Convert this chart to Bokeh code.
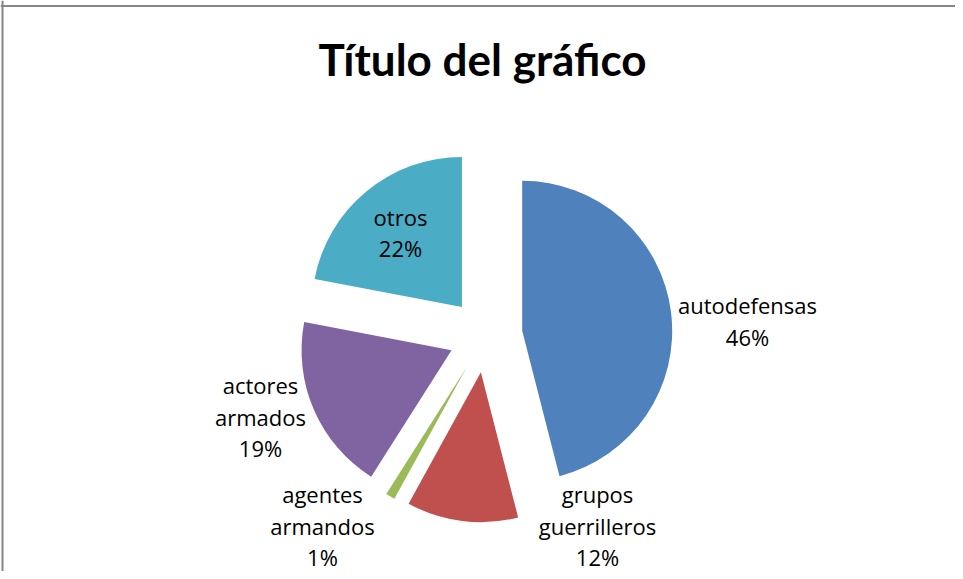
import math
from bokeh.plotting import figure
from bokeh.models import ColumnDataSource, Span
from bokeh.core.properties import value
from bokeh.embed import file_html
from bokeh.resources import INLINE

# ---- data ----
title_text = "Título del gráfico"
categories = ["autodefensas", "grupos guerrilleros", "agentes armandos", "actores armados", "otros"]
percentages = [46, 12, 1, 19, 22]
colors = ["#4F81BD", "#C0504D", "#9BBB59", "#8064A2", "#4BACC6"]

# ---- layout (reference pixels, y down) ----
W, H = 955, 571
def px(x): return x
def py(y): return H - y

CENTER = (485, 335)
RADIUS = 150
EXPLODE = 37
LINE_STEP = 31.5
# label block centres, placed where the reference puts them
LABEL_CENTERS = [(747, 320.5), (597, 525), (322, 525), (260, 416), (400, 232)]
FONT = "Open Sans"

p = figure(width=W, height=H, x_range=(0, W), y_range=(0, H),
           output_backend="svg", toolbar_location=None, min_border=0)
p.axis.visible = False
p.grid.visible = False
p.outline_line_color = None
p.background_fill_color = "#FFFFFF"
p.border_fill_color = "#FFFFFF"

total = sum(percentages)
cx, cy = px(CENTER[0]), py(CENTER[1])
xs, ys, starts, ends = [], [], [], []
cum = 0.0
for v in percentages:
    a0 = cum / total * 2 * math.pi          # clockwise from top
    cum += v
    a1 = cum / total * 2 * math.pi
    mid = (a0 + a1) / 2
    xs.append(cx + EXPLODE * math.sin(mid))
    ys.append(cy + EXPLODE * math.cos(mid))
    starts.append(math.pi / 2 - a1)
    ends.append(math.pi / 2 - a0)

src = ColumnDataSource(dict(x=xs, y=ys, start=starts, end=ends, color=colors, name=categories))
p.wedge(x="x", y="y", radius=RADIUS, start_angle="start", end_angle="end",
        fill_color="color", line_color=None, source=src)

# labels
tx, ty, tt = [], [], []
for name, v, (lx, ly) in zip(categories, percentages, LABEL_CENTERS):
    lines = name.split(" ") + [f"{round(v / total * 100)}%"]
    n = len(lines)
    for i, line in enumerate(lines):
        tx.append(px(lx))
        ty.append(py(ly + (i - (n - 1) / 2) * LINE_STEP))
        tt.append(line)
p.text(x=tx, y=ty, text=tt, text_align="center", text_baseline="middle",
       text_font=value(FONT), text_font_size="22px", text_color="#000000")

# title
p.text(x=[px(482)], y=[py(58)], text=[title_text], text_align="center",
       text_baseline="middle", text_font=value("Lato"), text_font_style="bold",
       text_font_size="44px", text_color="#000000")

# chart border (top and left visible in the reference)
p.add_layout(Span(location=py(5.5), dimension="width", line_color="#868686", line_width=2))
p.add_layout(Span(location=px(2), dimension="height", line_color="#868686", line_width=2))

open("out.html", "w").write(file_html(p, INLINE))
